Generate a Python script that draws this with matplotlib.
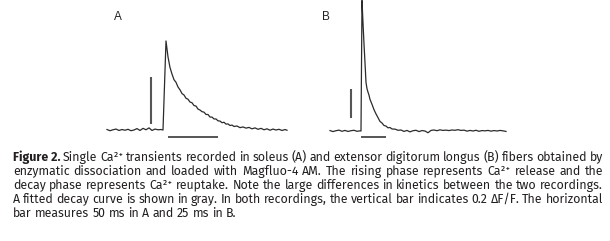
import math

import matplotlib
matplotlib.use("Agg")
import matplotlib.pyplot as plt
from matplotlib.font_manager import FontProperties

# soleus fibre (A): time in ms, signal in dF/F
a_time = [-56, -53, -50, -47, -44, -41, -38, -35, -32, -29, -26, -23, -20, -17,
          -14, -11, -8, -5, -2, 0, 3, 5, 7, 9, 11, 13, 15, 17, 19, 21, 23, 25,
          27, 29, 31, 33, 35, 37, 39, 41, 43, 45, 47, 49, 51, 53, 55, 57, 59,
          61, 63, 65, 67, 69, 71, 74, 77, 80, 83, 86, 89, 92, 95, 98, 101,
          104, 107, 110, 113, 116, 119, 122, 124]
a_dff = [0.002, -0.003, 0.001, 0.004, -0.002, 0.002, -0.001, 0.003, -0.003,
         0.000, 0.006, -0.002, 0.007, 0.001, 0.009, -0.002, 0.004, 0.001,
         0.002, 0.000, 0.379, 0.311, 0.266, 0.238, 0.214, 0.203, 0.183, 0.171,
         0.155, 0.149, 0.135, 0.131, 0.119, 0.116, 0.104, 0.102, 0.089, 0.085,
         0.078, 0.076, 0.066, 0.066, 0.055, 0.055, 0.047, 0.047, 0.039, 0.038,
         0.031, 0.033, 0.025, 0.026, 0.019, 0.021, 0.015, 0.017, 0.010, 0.013,
         0.008, 0.011, 0.005, 0.009, 0.003, 0.007, 0.001, 0.005, -0.001,
         0.004, 0.000, 0.003, -0.002, 0.002, -0.001]

# EDL fibre (B)
b_time = [-31, -28, -25, -22, -19, -16, -13, -10, -7, -4, -1, 0, 1, 2, 3, 4,
          5, 6, 7, 8, 9, 11, 13, 15, 17, 19, 21, 23, 25, 27, 29, 31, 34, 37,
          40, 43, 46, 49, 52, 55, 58, 61, 64, 67, 70, 73, 76, 79, 82, 85, 88,
          91, 94, 97, 100, 103, 106, 109, 112, 115, 118, 121, 124, 127, 130,
          133, 136, 139, 142, 145]
b_dff = [0.003, -0.004, 0.002, 0.006, -0.002, 0.004, -0.003, 0.002, 0.005,
         -0.002, 0.001, 0.000, 0.900, 0.745, 0.600, 0.470, 0.335, 0.292,
         0.268, 0.247, 0.218, 0.184, 0.147, 0.118, 0.092, 0.066, 0.055, 0.038,
         0.034, 0.022, 0.024, 0.014, 0.013, 0.005, 0.007, -0.003, 0.004,
         -0.006, 0.002, 0.005, -0.004, 0.003, 0.000, -0.012, 0.004, 0.007,
         0.002, 0.008, 0.004, 0.006, 0.003, 0.007, 0.005, 0.009, 0.004, 0.006,
         -0.001, 0.004, 0.000, 0.005, -0.002, 0.003, 0.001, 0.004, -0.001,
         0.003, 0.000, 0.004, 0.001, -0.003]

bar_dff = 0.2
bar_ms = {"A": 50, "B": 25}

caption_bold = "Figure 2."
caption_lines = [
    " Single Ca²⁺ transients recorded in soleus (A) and extensor digitorum longus (B) fibers obtained by",
    "enzymatic dissociation and loaded with Magfluo-4 AM. The rising phase represents Ca²⁺ release and the",
    "decay phase represents Ca²⁺ reuptake. Note the large differences in kinetics between the two recordings.",
    "A fitted decay curve is shown in gray. In both recordings, the vertical bar indicates 0.2 ΔF/F. The horizontal",
    "bar measures 50 ms in A and 25 ms in B.",
]

W, H = 610, 241
fig = plt.figure(figsize=(W / 100, H / 100), dpi=100)
fams = ["Fira Sans", "Liberation Sans", "DejaVu Sans"]


def panel(box, t0_px, base_px, px_per_dff, t, y, label, label_xy, vbar, hbar):
    # box = (left, top, right, bottom) in pixels from top-left
    l, tp, r, b = box
    ax = fig.add_axes([l / W, 1 - b / H, (r - l) / W, (b - tp) / H])
    ax.set_xlim(l - t0_px, r - t0_px)
    ax.set_ylim(-(b - base_px) / px_per_dff, (base_px - tp) / px_per_dff)
    ax.axis("off")
    ax.plot(t, y, color="#2b2b2b", lw=0.9, clip_on=False)
    # scale bars
    vx, vy0 = vbar
    ax.plot([vx, vx], [vy0, vy0 + bar_dff], color="#555555", lw=1.5,
            solid_capstyle="butt")
    hx0, hy = hbar
    ax.plot([hx0, hx0 + bar_ms[label]], [hy, hy], color="#555555", lw=1.4,
            solid_capstyle="butt")
    fig.text(label_xy[0] / W, 1 - label_xy[1] / H, label, ha="center",
             va="center", fontsize=8.5, family="Liberation Sans", color="#222222")
    return ax


panel((100, 0, 300, 145), 163, 130, 235, a_time, a_dff, "A", (118, 17),
      (-12, 0.026), (5, -0.030))
panel((320, 0, 520, 145), 361, 131, 145, b_time, b_dff, "B", (326, 17),
      (-10, 0.090), (0, -0.041))

# justified caption, word by word
fig.canvas.draw()
rend = fig.canvas.get_renderer()
fs = 8.9


def width(s, weight="normal"):
    tt = fig.text(0, 0, s, fontsize=fs, fontweight=weight, family=fams)
    w = tt.get_window_extent(rend).width
    tt.remove()
    return w


def snapped_baseline(s, weight, row):
    # agg places each word's bitmap by rounding with its own descent;
    # shift so that every word lands on the same pixel baseline
    prop = FontProperties(family=fams, size=fs, weight=weight)
    _, h, d = rend.get_text_width_height_descent(s, prop, ismath=False)
    return row + math.floor(h) - math.floor(h - d) - d


x_left, x_right = 13, 603
baselines = [161, 175, 189, 203, 217]
space = width("a b") - width("ab")

for i, line in enumerate(caption_lines):
    tokens = []
    if i == 0:
        tokens.append((caption_bold, "bold"))
    tokens += [(w, "normal") for w in line.split()]
    widths = [width(s, wt) for s, wt in tokens]
    if i < len(caption_lines) - 1:
        gap = (x_right - x_left - sum(widths)) / (len(tokens) - 1)
    else:
        gap = space
    x = x_left
    for (s, wt), w in zip(tokens, widths):
        yb = snapped_baseline(s, wt, baselines[i])
        fig.text(x / W, 1 - yb / H, s, fontsize=fs, fontweight=wt,
                 family=fams, va="baseline", ha="left", color="#231f20")
        x += w + gap

fig.savefig("out.png", dpi=100)
